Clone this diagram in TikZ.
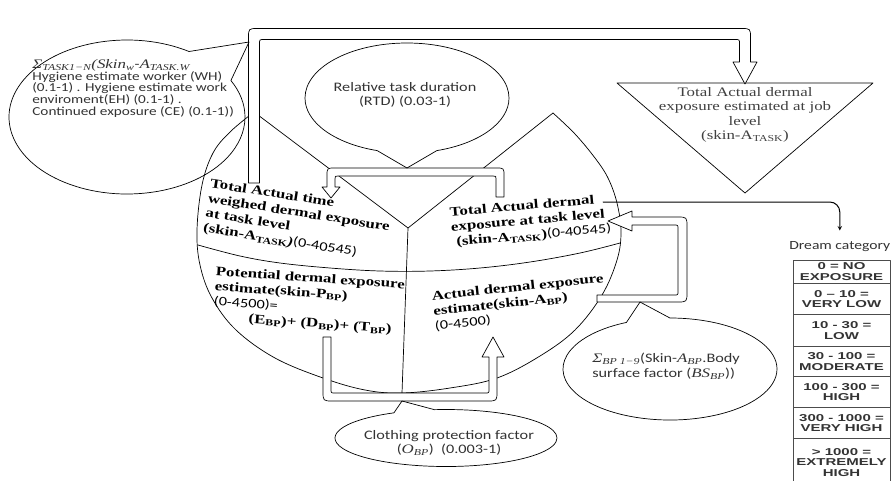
\documentclass[tikz,border=0pt]{standalone}
\usepackage{fontspec}
\setmainfont{Liberation Serif}
\newfontfamily\serifw[FakeStretch=1.3]{Liberation Serif}
\newfontfamily\callf[FakeStretch=1.25]{Carlito}
\newfontfamily\tabf[FakeStretch=1.5]{Liberation Sans}
\newcommand{\mvar}[1]{{\serifw\itshape #1}}
\usetikzlibrary{shapes.callouts}
\begin{document}
\begin{tikzpicture}[>=stealth,line join=round,line cap=round,x=1pt,y=-1pt,line width=.7pt,
	bubble/.style={ellipse callout,draw,inner sep=0pt},
	calltext/.style={inner sep=0pt,text=black!80,font=\callf\fontsize{13}{14.5}\selectfont},
	bodytext/.style={inner sep=0pt,align=left,anchor=north west,font=\serifw\bfseries\fontsize{13}{15}\selectfont},
	fatarrow/.style={draw,fill=white},
	cell/.style={draw=black!70,line width=.6pt,minimum width=97pt,inner sep=0pt,align=center,text=black!80,font=\tabf\bfseries\fontsize{10}{10.5}\selectfont}]
	\useasboundingbox (0,0) rectangle (896,480);
	\path
	(254,112) coordinate (L)
	(553,113) coordinate (R)
	(408,228) coordinate (C)
	(402,393) coordinate (B)
	(617,83) coordinate (J_1)
	(873,83) coordinate (J_2)
	(745,193) coordinate (J_3)
	(603,202) coordinate (tasklink)
	;
	\draw plot[smooth,tension=.6] coordinates {(L) (230,132) (213,153) (202,185) (197,230) (200,265) (212,298) (236,330) (275,358) (323,378) (365,390) (B) (450,388) (497,378) (540,356) (575,330) (602,295) (617,260) (621,232) (617,203) (608,178) (595,158) (575,134) (R)};
	\draw (L)--(C)--(R) (C)--(B);
	\draw plot[smooth,tension=.6] coordinates {(198,245) (240,256) (280,263) (330,268) (380,271) (430,271) (480,268) (530,262) (580,253) (620,243)};
	\draw (J_1)--(J_2)--(J_3)--cycle;
	\draw[fatarrow] (248.5,183) -- (248.5,38) .. controls (248.5,28.5) .. (258,28.5) -- (741,28.5) .. controls (750.5,28.5) .. (750.5,38) -- (750.5,62) -- (757,62) -- (745,84) -- (733,62) -- (739.5,62) -- (739.5,44) .. controls (739.5,39.5) .. (735,39.5) -- (264,39.5) .. controls (259.5,39.5) .. (259.5,44) -- (259.5,183) -- cycle;
	\draw[fatarrow] (504,197) -- (504,176) .. controls (504,168) .. (496,168) -- (335,168) .. controls (327,168) .. (327,176) -- (327,187) -- (322,187) -- (331,198) -- (340,187) -- (335,187) -- (335,179) .. controls (335,176) .. (338,176) -- (493,176) .. controls (496,176) .. (496,179) -- (496,197) -- cycle;
	\draw[fatarrow] (323,337) -- (323,391) .. controls (323,401) .. (333,401) -- (487,401) .. controls (497,401) .. (497,391) -- (497,357) -- (504,357) -- (493,337) -- (482,357) -- (489,357) -- (489,389) .. controls (489,393) .. (485,393) -- (335,393) .. controls (331,393) .. (331,389) -- (331,337) -- cycle;
	\draw[fatarrow] (597,302) -- (677,302) .. controls (687,302) .. (687,292) -- (687,227) .. controls (687,217) .. (677,217) -- (632,217) -- (632,211) -- (608,221) -- (632,231) -- (632,225) -- (674,225) .. controls (678,225) .. (678,229) -- (678,291) .. controls (678,295) .. (674,295) -- (597,295) -- cycle;
	\node[bubble,minimum width=236pt,minimum height=154pt,callout pointer arc=30,callout absolute pointer={(249,42)}] (sumtask) at (127,117) {};
	\node[bubble,minimum width=204pt,minimum height=110pt,callout pointer arc=34,callout absolute pointer={(407,168)}] (rtd) at (407,98) {};
	\node[bubble,minimum width=222pt,minimum height=57pt,callout pointer arc=22,callout absolute pointer={(402,401)}] (cloth) at (446,438) {};
	\node[bubble,minimum width=214pt,minimum height=102pt,callout pointer arc=24,callout absolute pointer={(640,302)}] (bodysf) at (670,369) {};
	\node[calltext,align=left,anchor=north west,font=\callf\fontsize{12.2}{11.8}\selectfont] (sumtxt) at (32,59) {{\fontsize{13}{11.8}\selectfont\mvar{Σ\textsubscript{TASK1−N}(Skin\textsubscript{w}}-\mvar{A\textsubscript{TASK.W}}}\\Hygiene estimate worker (WH)\\(0.1-1) . Hygiene estimate work\\enviroment(EH) (0.1-1) .\\Continued exposure (CE) (0.1-1))};
	\node[calltext,align=center] (rtdtxt) at (405,95) {Relative task duration\\(RTD) (0.03-1)};
	\node[calltext,align=center] (clothtxt) at (449,443) {Clothing protection factor\\(\mvar{O\textsubscript{BP}})\ \ (0.003-1)};
	\node[calltext,align=left,anchor=north west] (bodytxt) at (592,353) {\mvar{Σ\textsubscript{BP 1−9}}(Skin-\mvar{A\textsubscript{BP}}.Body\\surface factor (\mvar{BS\textsubscript{BP}}))};
	\node[bodytext,rotate=-9] (twa) at (211,178) {Total Actual time\\weighed dermal exposure\\at task level\\(skin-A\textsubscript{TASK}\textit{)}{\callf\mdseries(0-40545)}};
	\node[bodytext,rotate=-4] (pde) at (216,266) {Potential dermal exposure\\estimate(skin-P\textsubscript{BP})\\{\callf\mdseries(0-4500)=}\\\hspace*{36pt}(E\textsubscript{BP})+ (D\textsubscript{BP})+ (T\textsubscript{BP})};
	\node[bodytext,rotate=5] (tad) at (449,207) {Total Actual dermal\\exposure at task level\\\hspace*{4pt}(skin-A\textsubscript{TASK}){\callf\mdseries(0-40545)}};
	\node[bodytext,rotate=6] (ade) at (431,291) {Actual dermal exposure\\estimate(skin-A\textsubscript{BP})\\{\callf\mdseries(0-4500)}};
	\node[inner sep=0pt,align=center,text=black!75,font=\serifw\fontsize{13}{14.5}\selectfont] (jobtxt) at (745,115) {Total Actual dermal\\exposure estimated at job\\level\\(skin-A\textsubscript{TASK})};
	\node[calltext,anchor=west,font=\callf\fontsize{12.5}{14}\selectfont] (dream) at (789,247) {Dream category};
	\draw[->,line width=1pt,rounded corners=10pt,shorten >=11pt] (tasklink) -| (dream.north);
	\foreach \ty/\rh/\txt [count=\i] in {260/23/{0 = NO\\EXPOSURE},283/31/{0 – 10 =\\VERY LOW},314/32/{10 - 30 =\\LOW},346/30/{30 - 100 =\\MODERATE},376/31/{100 - 300 =\\HIGH},407/31/{300 - 1000 =\\VERY HIGH},438/48/{> 1000 =\\EXTREMELY\\HIGH}}
	\node[cell,minimum height=\rh*1pt,anchor=north] (dc_\i) at (841.5,\ty) {\txt};
\end{tikzpicture}
\end{document}
